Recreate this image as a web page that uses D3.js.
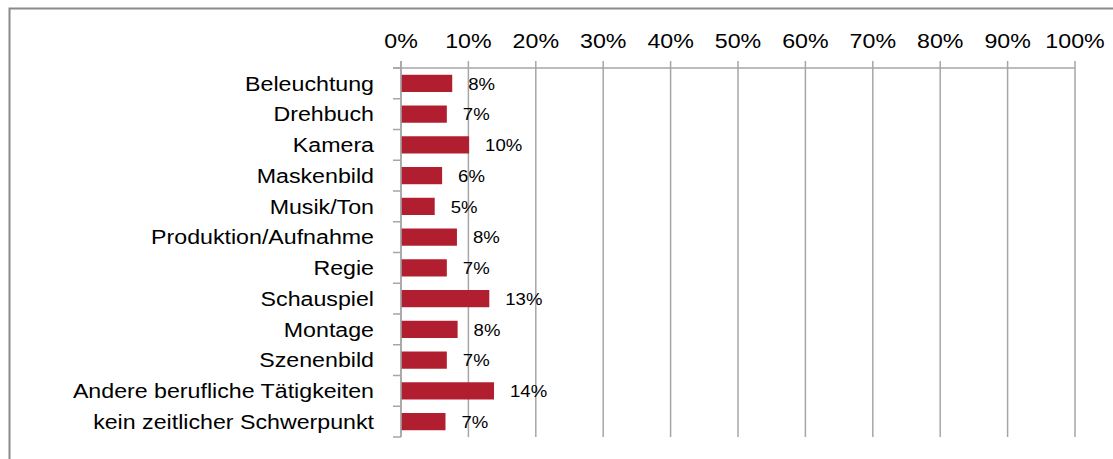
<!DOCTYPE html>
<html>
<head>
<meta charset="utf-8">
<script src="https://cdn.jsdelivr.net/npm/d3@7"></script>
<style>
  body { margin: 0; background: #fff; }
  svg { display: block; font-family: "Liberation Sans", Arial, sans-serif; }
</style>
</head>
<body>
<svg width="1113" height="459"></svg>
<script>
// dati
const categories = ["Beleuchtung", "Drehbuch", "Kamera", "Maskenbild", "Musik/Ton",
  "Produktion/Aufnahme", "Regie", "Schauspiel", "Montage", "Szenenbild",
  "Andere berufliche Tätigkeiten", "kein zeitlicher Schwerpunkt"];
const values = [7.6, 6.8, 10.1, 6.1, 5.0, 8.3, 6.8, 13.1, 8.4, 6.8, 13.8, 6.6];
const labels = ["8%", "7%", "10%", "6%", "5%", "8%", "7%", "13%", "8%", "7%", "14%", "7%"];
const ticks = [0, 10, 20, 30, 40, 50, 60, 70, 80, 90, 100];

const sx = 1.16; // il testo originale è un po' più largo
const svg = d3.select("svg");

// cornice
svg.append("path")
  .attr("d", "M9.5,459 V8.5 H1113")
  .attr("fill", "none")
  .attr("stroke", "#8a8a8a")
  .attr("stroke-width", 2);

const x = d3.scaleLinear().domain([0, 100]).range([401, 1075]);
const y = d3.scaleBand().domain(categories).range([68, 437]).paddingInner(0.44).paddingOuter(0.22);
const yb = d3.scaleBand().domain(categories).range([68, 437]);

// griglia
svg.append("g")
  .selectAll("line")
  .data(ticks)
  .join("line")
  .attr("x1", d => x(d))
  .attr("x2", d => x(d))
  .attr("y1", 61)
  .attr("y2", 437)
  .attr("stroke", "#a6a6a6")
  .attr("stroke-width", 1.5);

// asse superiore
svg.append("line")
  .attr("x1", 393).attr("x2", 1075)
  .attr("y1", 68).attr("y2", 68)
  .attr("stroke", "#a6a6a6").attr("stroke-width", 1.5);

// tacche asse y
svg.append("g")
  .selectAll("line")
  .data(categories.map(c => yb(c)).concat([437]))
  .join("line")
  .attr("x1", 393).attr("x2", 401)
  .attr("y1", d => d).attr("y2", d => d)
  .attr("stroke", "#a6a6a6").attr("stroke-width", 1.5);

svg.append("g")
  .selectAll("text")
  .data(ticks)
  .join("text")
  .attr("transform", d => `translate(${x(d)},48) scale(${sx},1)`)
  .attr("text-anchor", "middle")
  .style("font-size", "20px")
  .text(d => d + "%");

// barre
svg.append("g")
  .selectAll("rect")
  .data(values)
  .join("rect")
  .attr("x", x(0))
  .attr("y", (d, i) => y(categories[i]))
  .attr("width", d => x(d) - x(0))
  .attr("height", y.bandwidth())
  .attr("fill", "#b01e2f");

// etichette categorie
svg.append("g")
  .selectAll("text")
  .data(categories)
  .join("text")
  .attr("transform", d => `translate(374,${yb(d) + yb.bandwidth() / 2}) scale(${sx},1)`)
  .attr("dy", "0.36em")
  .attr("text-anchor", "end")
  .style("font-size", "20px")
  .text(d => d);

// etichette valori
svg.append("g")
  .selectAll("text")
  .data(values)
  .join("text")
  .attr("transform", (d, i) => `translate(${x(d) + 16},${yb(categories[i]) + yb.bandwidth() / 2 + 0.5}) scale(${sx},1)`)
  .attr("dy", "0.36em")
  .style("font-size", "16px")
  .text((d, i) => labels[i]);

// linea asse y
svg.append("line")
  .attr("x1", 401).attr("x2", 401)
  .attr("y1", 61).attr("y2", 437)
  .attr("stroke", "#a6a6a6").attr("stroke-width", 1.5);
</script>
</body>
</html>
